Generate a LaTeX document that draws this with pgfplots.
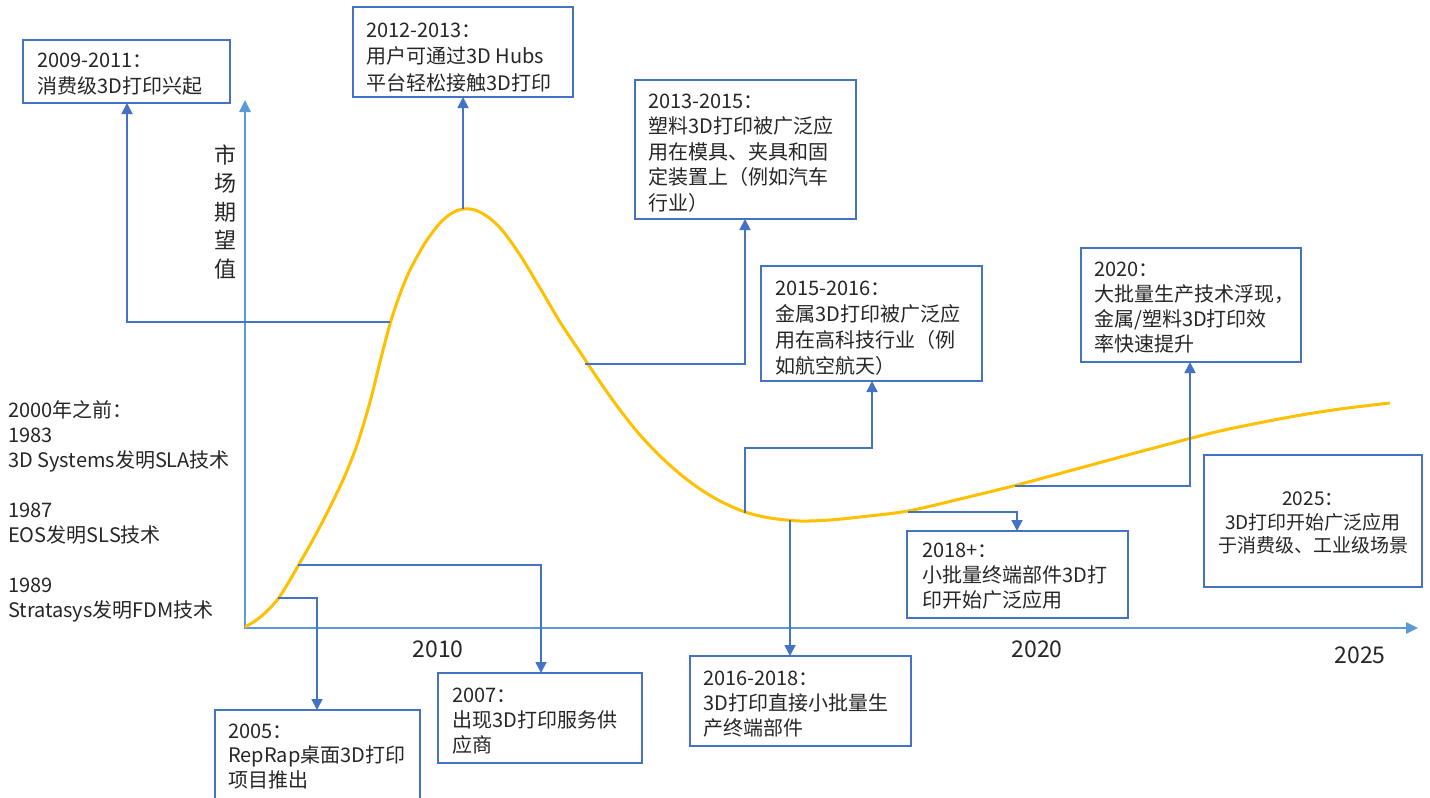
\documentclass[border=0pt]{standalone}
\usepackage{fontspec}
\setmainfont{Noto Sans CJK SC}
\usepackage{pgfplots}
\pgfplotsset{compat=1.18}
\usetikzlibrary{arrows.meta}
\definecolor{boxc}{HTML}{4472C4}
\definecolor{axc}{HTML}{5B9BD5}
\definecolor{curvec}{HTML}{FFC000}
\definecolor{txt}{HTML}{262626}
\newcommand{\bx}[8]{%
  \draw[boxc, line width=1.8pt] (axis cs:#1,#2) rectangle (axis cs:#3,#4);
  \node[anchor=north west, inner sep=0pt, align=left, text=txt, font={\fontsize{20}{#7}\selectfont}] at (axis cs:#5,{#6-0.7*#7}) {\strut #8};
}
\tikzset{conn/.style={boxc, line width=1.8pt, -{Triangle[width=11pt,length=11pt]}}}
\begin{document}
\begin{tikzpicture}
\begin{axis}[width=1430pt, height=798pt, scale only axis,
  xmin=0, xmax=1430, ymin=0, ymax=798, y dir=reverse,
  hide axis, clip=false]
\fill[white] (axis cs:0,0) rectangle (axis cs:1430,798);
% axes
\draw[axc, line width=2.6pt, -{Triangle[width=11pt,length=12pt]}] (axis cs:245,628) -- (axis cs:245,100);
\draw[axc, line width=2.6pt, -{Triangle[width=11pt,length=12pt]}] (axis cs:244,628) -- (axis cs:1418,628);
% curve
\addplot[smooth, tension=0.5, color=curvec, line width=3pt] coordinates {
(245,627) (255,621) (265,613) (278,599) (290,580) (298,566) (310,545) (325,517)
(343,480) (357,445) (370,402) (380,362) (390,324) (400,294) (410,270) (425,243)
(440,223) (452,213) (463,209) (475,210) (488,217) (502,230) (520,255) (540,288)
(560,322) (580,352) (600,382) (620,410) (640,435) (660,456) (680,474) (700,489)
(720,501) (745,512) (770,518) (800,521) (830,520) (860,517) (908,511) (960,499)
(1017,485) (1080,468) (1150,449) (1220,431) (1290,417) (1340,409) (1390,403)};
% connectors
\draw[conn] (axis cs:390,322) -- (axis cs:127,322) -- (axis cs:127,103);
\draw[conn] (axis cs:463,209) -- (axis cs:463,97);
\draw[conn] (axis cs:585,364) -- (axis cs:745,364) -- (axis cs:745,219);
\draw[conn] (axis cs:745,513) -- (axis cs:745,448) -- (axis cs:872,448) -- (axis cs:872,381);
\draw[conn] (axis cs:790,520) -- (axis cs:790,656);
\draw[conn] (axis cs:908,512) -- (axis cs:1017,512) -- (axis cs:1017,531);
\draw[conn] (axis cs:1015,486) -- (axis cs:1190,486) -- (axis cs:1190,362);
\draw[conn] (axis cs:278,598) -- (axis cs:317,598) -- (axis cs:317,710);
\draw[conn] (axis cs:298,565) -- (axis cs:541,565) -- (axis cs:541,673);
% boxes
\bx{23}{40}{230}{103}{37}{67}{26}{2009-2011：\\消费级3D打印兴起}
\bx{353}{7}{573}{97}{366}{37}{26.5}{2012-2013：\\用户可通过3D Hubs\\平台轻松接触3D打印}
\bx{635}{80}{856}{219}{648}{108}{25.5}{2013-2015：\\塑料3D打印被广泛应\\用在模具、夹具和固\\定装置上（例如汽车\\行业）}
\bx{761}{266}{982}{381}{775}{295}{26}{2015-2016：\\金属3D打印被广泛应\\用在高科技行业（例\\如航空航天）}
\bx{1081}{248}{1301}{362}{1094}{276}{25}{2020：\\大批量生产技术浮现，\\金属/塑料3D打印效\\率快速提升}
\bx{907}{531}{1128}{618}{922}{557}{25}{2018+：\\小批量终端部件3D打\\印开始广泛应用}
\bx{690}{656}{911}{746}{703}{685}{25}{2016-2018：\\3D打印直接小批量生\\产终端部件}
\bx{438}{673}{642}{763}{452}{702}{25}{2007：\\出现3D打印服务供\\应商}
\draw[boxc, line width=1.8pt] (axis cs:215,798) -- (axis cs:215,710) -- (axis cs:420,710) -- (axis cs:420,798);
\node[anchor=north west, inner sep=0pt, align=left, text=txt, font={\fontsize{20}{24.5}\selectfont}] at (axis cs:228,{738-0.7*24.5}) {\strut 2005：\\RepRap桌面3D打印\\项目推出};
\draw[boxc, line width=1.8pt] (axis cs:1204,455) rectangle (axis cs:1422,587);
\node[anchor=north, inner sep=0pt, align=center, text=txt, font={\fontsize{19}{23}\selectfont}] at (axis cs:1313,{505-0.7*23}) {\strut 2025：\\3D打印开始广泛应用\\于消费级、工业级场景};
% left text
\node[anchor=north west, inner sep=0pt, align=left, text=txt, font={\fontsize{20}{25}\selectfont}] at (axis cs:8,{417-0.7*25}) {\strut 2000年之前：\\1983\\3D Systems发明SLA技术\\[25pt]1987\\EOS发明SLS技术\\[25pt]1989\\Stratasys发明FDM技术};
% axis label
\node[anchor=center, inner sep=0pt, align=center, text=txt, font={\fontsize{22}{28.5}\selectfont}] at (axis cs:225,212) {市\\场\\期\\望\\值};
% year labels
\node[anchor=base, inner sep=0pt, text=txt, font={\fontsize{23}{27}\selectfont}] at (axis cs:438,657) {2010};
\node[anchor=base, inner sep=0pt, text=txt, font={\fontsize{23}{27}\selectfont}] at (axis cs:1037,657) {2020};
\node[anchor=base, inner sep=0pt, text=txt, font={\fontsize{23}{27}\selectfont}] at (axis cs:1360,663) {2025};
\end{axis}
\pgfresetboundingbox
\useasboundingbox (current axis.south west) rectangle (current axis.north east);
\end{tikzpicture}
\end{document}
